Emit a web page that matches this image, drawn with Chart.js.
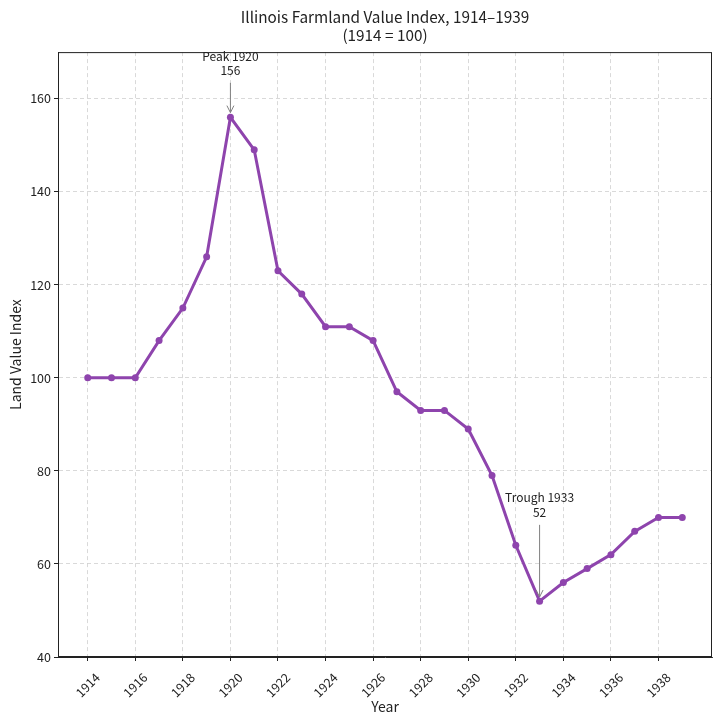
<!DOCTYPE html>
<html>
<head>
<meta charset="utf-8">
<title>Illinois Farmland Value Index</title>
<script src="https://cdn.jsdelivr.net/npm/chart.js@4.4.1/dist/chart.umd.min.js"></script>
<style>
  html, body { margin: 0; padding: 0; background: #fff; }
  #wrap { width: 722px; height: 723px; }
</style>
</head>
<body>
<div id="wrap"><canvas id="chart"></canvas></div>
<script>
// values
var years = [1914, 1915, 1916, 1917, 1918, 1919, 1920, 1921, 1922, 1923, 1924, 1925, 1926,
             1927, 1928, 1929, 1930, 1931, 1932, 1933, 1934, 1935, 1936, 1937, 1938, 1939];
var indexValues = [100, 100, 100, 108, 115, 126, 156, 149, 123, 118, 111, 111, 108,
                   97, 93, 93, 89, 79, 64, 52, 56, 59, 62, 67, 70, 70];
var xTicks = [1914, 1916, 1918, 1920, 1922, 1924, 1926, 1928, 1930, 1932, 1934, 1936, 1938];
var yTicks = [40, 60, 80, 100, 120, 140, 160];

// annotations: label lines, where the text sits, where the arrow starts/ends
var notes = [
  { lines: ['Peak 1920', '156'], x: 1920, textY: [169, 166], arrowFrom: 163.4, arrowTo: 157.0 },
  { lines: ['Trough 1933', '52'], x: 1933, textY: [74.2, 71.0], arrowFrom: 68.4, arrowTo: 52.9 }
];

var FONT = '"Noto Sans CJK SC", "Noto Sans", sans-serif';
var purple = '#8e44ad';

var points = years.map(function (y, i) { return { x: y, y: indexValues[i] }; });

// frame around the plot + x tick labels + annotations
var extras = {
  id: 'extras',
  afterDraw: function (chart) {
    var ctx = chart.ctx, a = chart.chartArea;
    var xs = chart.scales.x, ys = chart.scales.y;
    ctx.save();

    // full box like matplotlib spines
    ctx.strokeStyle = '#222';
    ctx.lineWidth = 1;
    ctx.strokeRect(a.left + 0.5, a.top + 0.5, a.right - a.left - 1, a.bottom - a.top - 1);

    // rotated year labels, centred under their ticks
    ctx.fillStyle = '#222';
    ctx.font = '12.5px ' + FONT;
    ctx.textAlign = 'center';
    ctx.textBaseline = 'middle';
    xTicks.forEach(function (t) {
      var px = xs.getPixelForValue(t);
      ctx.save();
      ctx.translate(px, a.bottom + 28);
      ctx.rotate(-Math.PI / 4);
      ctx.fillText(String(t), 0, 0);
      ctx.restore();
    });

    // annotations
    notes.forEach(function (n) {
      var px = xs.getPixelForValue(n.x);
      ctx.fillStyle = '#222';
      ctx.font = '12px ' + FONT;
      n.lines.forEach(function (txt, i) {
        ctx.fillText(txt, px, ys.getPixelForValue(n.textY[i]));
      });
      var y0 = ys.getPixelForValue(n.arrowFrom);
      var y1 = ys.getPixelForValue(n.arrowTo);
      ctx.strokeStyle = '#808080';
      ctx.lineWidth = 1;
      ctx.beginPath();
      ctx.moveTo(px, y0);
      ctx.lineTo(px, y1);
      ctx.stroke();
      ctx.beginPath();
      ctx.moveTo(px - 3.5, y1 - 7);
      ctx.lineTo(px, y1);
      ctx.lineTo(px + 3.5, y1 - 7);
      ctx.stroke();
    });
    ctx.restore();
  }
};

var gridStyle = {
  color: '#cfcfcf',
  lineWidth: 0.8,
  drawTicks: true,
  tickLength: 4,
  tickColor: '#222',
  tickBorderDash: [],
  tickWidth: 1
};

new Chart(document.getElementById('chart'), {
  type: 'line',
  data: {
    datasets: [{
      data: points,
      borderColor: purple,
      backgroundColor: purple,
      borderWidth: 3,
      pointRadius: 3.5,
      pointHoverRadius: 3.5,
      pointBorderWidth: 0,
      tension: 0
    }]
  },
  options: {
    responsive: true,
    maintainAspectRatio: false,
    animation: false,
    layout: { padding: { left: 0, right: 10, top: 0, bottom: 0 } },
    plugins: {
      legend: { display: false },
      tooltip: { enabled: false },
      title: {
        display: true,
        fullSize: false,
        text: ['Illinois Farmland Value Index, 1914\u20131939', '(1914 = 100)'],
        color: '#222',
        font: { family: FONT, size: 15.3, weight: 'normal', lineHeight: 1.18 },
        padding: { top: 8, bottom: 8 }
      }
    },
    scales: {
      x: {
        type: 'linear',
        min: 1912.75,
        max: 1940.25,
        afterBuildTicks: function (s) { s.ticks = xTicks.map(function (v) { return { value: v }; }); },
        afterFit: function (s) { s.height = 66; },
        ticks: { display: false },
        grid: gridStyle,
        border: { display: true, color: '#222', width: 1, dash: [4, 3] },
        title: {
          display: true,
          text: 'Year',
          color: '#222',
          font: { family: FONT, size: 14 },
          padding: { top: 0, bottom: 8 }
        }
      },
      y: {
        min: 40,
        max: 170,
        afterBuildTicks: function (s) { s.ticks = yTicks.map(function (v) { return { value: v }; }); },
        afterFit: function (s) { s.width = 58; },
        ticks: {
          color: '#222',
          font: { family: FONT, size: 12.5 },
          padding: 3
        },
        grid: gridStyle,
        border: { display: true, color: '#222', width: 1, dash: [4, 3] },
        title: {
          display: true,
          text: 'Land Value Index',
          color: '#222',
          font: { family: FONT, size: 14 },
          padding: { top: 7, bottom: 0 }
        }
      }
    }
  },
  plugins: [extras]
});
</script>
</body>
</html>
